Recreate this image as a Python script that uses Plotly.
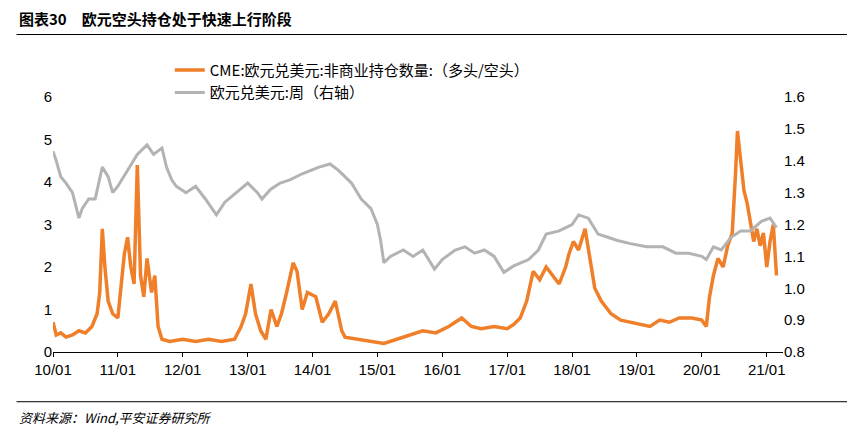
import plotly.graph_objects as go
from datetime import datetime, timedelta

def yr2date(y):
    yi = int(y)
    start = datetime(yi, 1, 1)
    return start + timedelta(days=(y - yi) * 365.25)

# CME non-commercial positions ratio (long/short), decimal years
cme_t = [2010.0,2010.05,2010.12,2010.2,2010.3,2010.4,2010.5,2010.6,2010.68,2010.72,2010.76,2010.8,2010.85,2010.92,
         2011.0,2011.05,2011.1,2011.15,2011.2,2011.25,2011.3,2011.35,2011.4,2011.45,2011.52,2011.57,2011.62,2011.68,
         2011.8,2012.0,2012.2,2012.4,2012.6,2012.8,2012.9,2012.97,2013.05,2013.12,2013.2,2013.28,2013.36,2013.45,
         2013.52,2013.6,2013.7,2013.76,2013.84,2013.92,2014.05,2014.15,2014.25,2014.35,2014.45,2014.5,2014.7,
         2014.9,2015.1,2015.3,2015.5,2015.7,2015.9,2016.1,2016.3,2016.45,2016.6,2016.8,2017.0,2017.1,2017.2,
         2017.3,2017.4,2017.5,2017.6,2017.7,2017.8,2017.9,2017.95,2018.02,2018.1,2018.2,2018.28,2018.35,2018.45,
         2018.6,2018.75,2018.9,2019.05,2019.2,2019.35,2019.5,2019.65,2019.85,2020.0,2020.07,2020.12,2020.18,
         2020.25,2020.33,2020.4,2020.47,2020.52,2020.55,2020.6,2020.65,2020.7,2020.75,2020.8,2020.85,2020.9,
         2020.95,2021.0,2021.05,2021.1,2021.15]
cme_v = [0.7,0.4,0.45,0.35,0.4,0.5,0.45,0.6,0.9,1.4,2.9,2.0,1.2,0.9,
         0.8,1.5,2.3,2.7,2.0,1.6,4.4,1.8,1.3,2.2,1.4,1.8,0.6,0.3,
         0.25,0.3,0.25,0.3,0.25,0.3,0.6,0.9,1.6,0.9,0.5,0.3,1.0,0.6,
         0.9,1.4,2.1,1.9,1.0,1.4,1.3,0.7,0.9,1.2,0.5,0.35,0.3,
         0.25,0.2,0.3,0.4,0.5,0.45,0.6,0.8,0.6,0.55,0.6,0.55,0.65,0.8,
         1.2,1.9,1.7,2.0,1.8,1.6,2.0,2.3,2.6,2.4,2.9,2.2,1.5,1.2,
         0.9,0.75,0.7,0.65,0.6,0.75,0.7,0.8,0.8,0.75,0.6,1.3,1.8,
         2.2,2.0,2.5,2.8,4.2,5.2,4.5,3.8,3.5,3.0,2.6,2.9,2.5,
         2.8,2.0,2.6,3.0,1.8]

# EUR/USD weekly (right axis), decimal years
fx_t = [2010.0,2010.05,2010.12,2010.2,2010.3,2010.4,2010.45,2010.55,2010.65,2010.76,2010.85,2010.92,2011.0,
        2011.15,2011.3,2011.45,2011.55,2011.68,2011.75,2011.83,2011.9,2012.05,2012.2,2012.35,2012.52,2012.65,
        2012.83,2013.0,2013.15,2013.22,2013.35,2013.5,2013.65,2013.85,2014.1,2014.27,2014.4,2014.6,2014.75,
        2014.9,2015.0,2015.05,2015.1,2015.2,2015.4,2015.55,2015.7,2015.88,2016.0,2016.2,2016.35,2016.5,2016.65,
        2016.8,2016.95,2017.1,2017.33,2017.48,2017.6,2017.8,2018.0,2018.1,2018.25,2018.4,2018.55,2018.7,2018.9,
        2019.15,2019.4,2019.6,2019.8,2020.0,2020.07,2020.18,2020.3,2020.45,2020.6,2020.75,2020.92,2021.05,2021.15]
fx_v = [1.43,1.40,1.35,1.33,1.30,1.22,1.25,1.28,1.28,1.38,1.35,1.30,1.32,
        1.37,1.42,1.45,1.42,1.44,1.38,1.34,1.32,1.30,1.32,1.28,1.23,1.27,
        1.30,1.33,1.30,1.28,1.31,1.33,1.34,1.36,1.38,1.39,1.37,1.33,1.28,
        1.25,1.20,1.15,1.08,1.10,1.12,1.10,1.12,1.06,1.09,1.12,1.13,1.11,1.12,
        1.10,1.05,1.07,1.09,1.12,1.17,1.18,1.20,1.23,1.22,1.17,1.16,1.15,1.14,
        1.13,1.13,1.11,1.11,1.10,1.09,1.13,1.12,1.16,1.18,1.18,1.21,1.22,1.19]

tick_years = list(range(2010, 2022))
tick_labels = [f"{y % 100:02d}/01" for y in tick_years]

fig = go.Figure()
fig.add_trace(go.Scatter(x=[yr2date(t) for t in cme_t], y=cme_v, mode="lines",
                         line=dict(color="#F07F2A", width=3.5),
                         name="CME:欧元兑美元:非商业持仓数量:（多头/空头）"))
fig.add_trace(go.Scatter(x=[yr2date(t) for t in fx_t], y=fx_v, mode="lines",
                         line=dict(color="#B3B3B3", width=3), yaxis="y2",
                         name="欧元兑美元:周（右轴）"))

font = "Noto Sans CJK SC"
tickfont = dict(family="Liberation Sans", size=15, color="black")
fig.update_layout(
    width=855, height=439, margin=dict(l=45, r=80, t=89, b=95),
    paper_bgcolor="white", plot_bgcolor="white",
    font=dict(family=font, size=14, color="black"),
    showlegend=True,
    legend=dict(x=0.16, y=1.17, xanchor="left", yanchor="top", bgcolor="rgba(0,0,0,0)",
                font=dict(size=15), tracegroupgap=0),
    xaxis=dict(range=[yr2date(2010.0), yr2date(2021.25)],
               tickvals=[datetime(y, 1, 1) for y in tick_years], ticktext=tick_labels,
               showgrid=False, showline=True, linecolor="black", ticks="outside",
               ticklen=4, tickcolor="black", tickfont=tickfont),
    yaxis=dict(range=[0, 6], dtick=1, showgrid=False, zeroline=False, showline=False,
               tickfont=tickfont),
    yaxis2=dict(range=[0.8, 1.6], dtick=0.1, tickformat=".1f", overlaying="y", side="right",
                showgrid=False, zeroline=False, showline=False, tickfont=tickfont),
    shapes=[
        dict(type="line", xref="paper", yref="paper", x0=-0.05, x1=1.1, y0=1.245, y1=1.245,
             line=dict(color="black", width=1)),
        dict(type="line", xref="paper", yref="paper", x0=-0.05, x1=1.1, y0=-0.195, y1=-0.195,
             line=dict(color="black", width=1)),
    ],
    annotations=[
        dict(text="<b>图表30　欧元空头持仓处于快速上行阶段</b>", xref="paper", yref="paper",
             x=-0.05, y=1.26, xanchor="left", yanchor="bottom", showarrow=False,
             font=dict(size=15)),
        dict(text="<i>资料来源：Wind,平安证券研究所</i>", xref="paper", yref="paper",
             x=-0.05, y=-0.21, xanchor="left", yanchor="top", showarrow=False,
             font=dict(size=13)),
    ],
)
fig.write_html("out.html")
